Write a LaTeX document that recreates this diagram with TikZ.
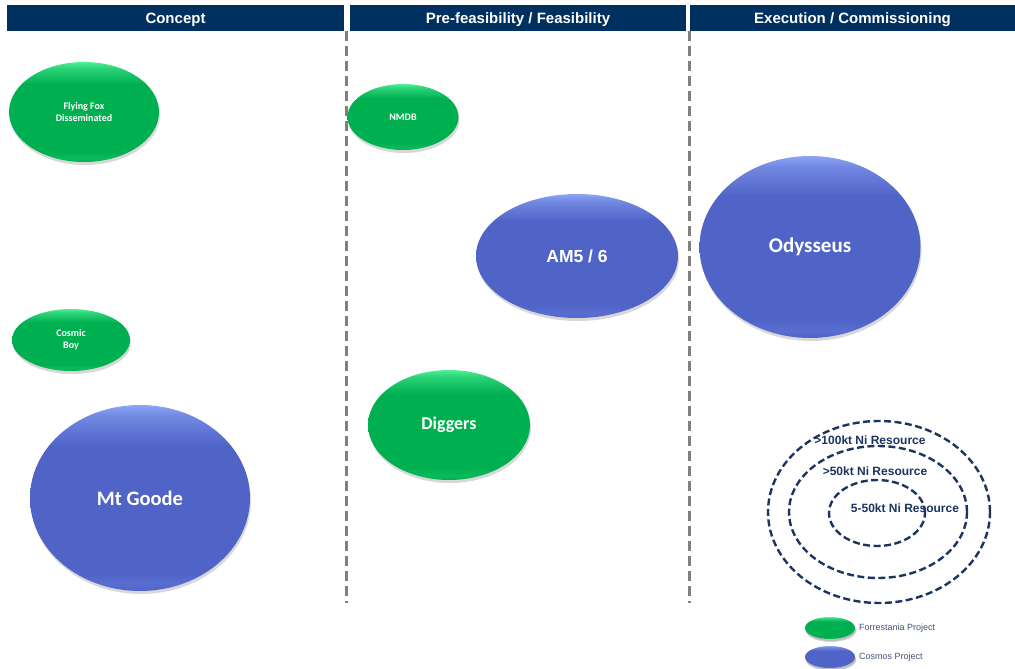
\documentclass[tikz,border=0pt]{standalone}
\usepackage{fontspec}
\setmainfont{Liberation Sans}
\newfontfamily\calibri{Carlito}
\usepackage{xcolor}
\usepackage{tikz}
\usetikzlibrary{shapes.geometric,shadows}
\definecolor{headnavy}{RGB}{0,48,96}
\definecolor{ringnavy}{RGB}{28,52,96}
\definecolor{fgreen}{RGB}{0,176,80}
\definecolor{fgreenlt}{RGB}{80,240,150}
\definecolor{cblue}{RGB}{80,100,200}
\definecolor{cbluelt}{RGB}{140,165,245}
\definecolor{legendtext}{RGB}{70,82,120}
\pgfdeclareverticalshading{greenblob}{100bp}{color(0bp)=(fgreen); color(25bp)=(fgreen);
  color(27bp)=(fgreen!85!fgreenlt); color(30bp)=(fgreen); color(64bp)=(fgreen);
  color(72bp)=(fgreen!45!fgreenlt); color(75bp)=(fgreenlt); color(100bp)=(fgreenlt)}
\pgfdeclareverticalshading{blueblob}{100bp}{color(0bp)=(cblue); color(25bp)=(cblue);
  color(27bp)=(cblue!85!cbluelt); color(30bp)=(cblue); color(64bp)=(cblue);
  color(72bp)=(cblue!45!cbluelt); color(75bp)=(cbluelt); color(100bp)=(cbluelt)}

\begin{document}
\begin{tikzpicture}[x=1pt,y=-1pt,
  head/.style={fill=headnavy,text=white,font=\bfseries\fontsize{15}{17}\selectfont,
    minimum height=26pt,inner sep=0pt,text height=10.7pt,text depth=0pt},
  blob/.style={ellipse,inner sep=0pt,text=white,align=center,
    drop shadow={opacity=.3,shadow xshift=1pt,shadow yshift=-3pt}},
  size/.style 2 args={minimum width=#1pt,minimum height=#2pt},
  forrest/.style={blob,shading=greenblob},
  cosmos/.style={blob,shading=blueblob},
  small/.style={font=\calibri\bfseries\fontsize{10}{12}\selectfont},
  divider/.style={gray,line width=3pt,dash pattern=on 10pt off 5pt},
  ring/.style={ellipse,draw=ringnavy,line width=2.4pt,dash pattern=on 7pt off 3.5pt,inner sep=0pt},
  ringtext/.style={text=ringnavy,font=\bfseries\fontsize{12}{14}\selectfont},
  legend/.style={text=legendtext,font=\fontsize{9}{11}\selectfont,anchor=west,inner sep=0pt}]
\fill[white] (0,0) rectangle (1015,669);
\useasboundingbox (0,0) rectangle (1015,669);

% stage headers
\node[head,minimum width=337pt] (concept) at (175.5,18) {Concept};
\node[head,minimum width=336pt] (prefeas) at (518,18) {Pre-feasibility / Feasibility};
\node[head,minimum width=325pt] (execution) at (852.5,18) {Execution / Commissioning};

\draw[divider] (346,31) -- (346,603);
\draw[divider] (689,31) -- (689,603);

% projects
\node[forrest,size={150}{100},small] (flyingfox) at (84,112) {Flying Fox\\Disseminated};
\node[forrest,size={118}{62},small] (cosmicboy) at (71,340) {Cosmic\\Boy};
\node[cosmos,size={220}{186},font=\calibri\bfseries\fontsize{20.5}{24}\selectfont] (mtgoode) at (140,498) {Mt Goode};
\node[forrest,size={111}{66},small] (nmdb) at (403,117) {NMDB};
\node[cosmos,size={202}{124},font=\bfseries\fontsize{17.5}{20}\selectfont] (am56) at (577,256) {AM5 / 6};
\node[forrest,size={162}{110},font=\calibri\bfseries\fontsize{18}{21}\selectfont] (diggers) at (449,425) {Diggers};
\node[cosmos,size={221}{182},font=\calibri\bfseries\fontsize{21}{24}\selectfont] (odysseus) at (810,247) {Odysseus};

% resource size key
\node[ring,size={222}{182}] (ringbig) at (879,512) {};
\node[ring,size={178}{132}] (ringmid) at (878,512) {};
\node[ring,size={96}{66}] (ringsmall) at (877,513) {};
\node[ringtext] (bigtext) at (870,440) {>100kt Ni Resource};
\node[ringtext] (midtext) at (875,471) {>50kt Ni Resource};
\node[ringtext] (smalltext) at (905,508) {5-50kt Ni Resource};

% legend
\node[forrest,size={50}{22},drop shadow={opacity=.3,shadow xshift=1pt,shadow yshift=-2pt}] (keyforrest) at (830,628) {};
\node[cosmos,size={50}{22},drop shadow={opacity=.3,shadow xshift=1pt,shadow yshift=-2pt}] (keycosmos) at (830,657) {};
\node[legend] (forresttext) at (859,628) {Forrestania Project};
\node[legend] (cosmostext) at (859,657) {Cosmos Project};
\end{tikzpicture}
\end{document}
